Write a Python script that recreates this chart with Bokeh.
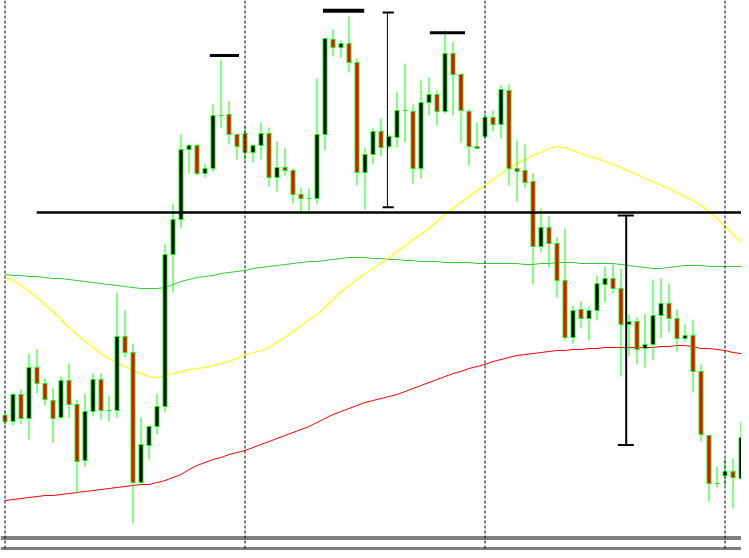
from bokeh.plotting import figure
from bokeh.models import Range1d, Span, ColumnDataSource
from bokeh.embed import file_html
from bokeh.resources import INLINE

# ---- price data (points), one entry per bar ----
bar_index = list(range(94))

open_ = [185, 179, 206, 182, 233, 217, 200, 183, 220, 196,
         140, 189, 221, 190, 190, 264, 248, 118, 155, 174,
         194, 346, 381, 451, 455, 427, 432, 485, 486, 466,
         467, 448, 455, 467, 423, 433, 430, 406, 402, 402,
         466, 561, 553, 557, 538, 428, 446, 469, 454, 463,
         490, 489, 432, 498, 506, 489, 547, 526, 489, 454,
         464, 483, 476, 510, 432, 430, 419, 354, 373, 357,
         320, 263, 291, 282, 290, 316, 322, 312, 276, 279,
         252, 256, 285, 297, 282, 262, 265, 229, 165, 117,
         125, 129, 122, 163]

close = [179, 206, 182, 233, 217, 201, 182, 220, 196, 139,
         189, 221, 190, 190, 264, 248, 118, 156, 174, 194,
         346, 381, 451, 455, 427, 432, 485, 485, 466, 454,
         448, 455, 467, 423, 433, 430, 406, 402, 402, 466,
         562, 553, 557, 538, 428, 446, 469, 453, 464, 490,
         490, 432, 498, 506, 489, 547, 526, 490, 454, 452,
         483, 476, 511, 432, 429, 418, 354, 373, 357, 320,
         263, 290, 282, 290, 317, 322, 312, 276, 279, 251,
         256, 285, 297, 282, 262, 265, 229, 166, 117, 117,
         129, 123, 163, 163]

high = [190, 208, 211, 247, 251, 222, 213, 224, 237, 201,
        207, 227, 227, 205, 308, 290, 257, 183, 175, 207,
        356, 396, 466, 457, 457, 437, 496, 540, 499, 467,
        475, 457, 478, 473, 459, 452, 432, 413, 412, 522,
        563, 571, 560, 584, 542, 453, 472, 482, 466, 508,
        537, 496, 520, 523, 510, 570, 559, 527, 491, 478,
        487, 490, 515, 516, 460, 456, 427, 392, 384, 363,
        372, 295, 299, 294, 325, 334, 336, 332, 286, 283,
        287, 321, 322, 317, 291, 276, 281, 236, 165, 134,
        142, 142, 179, 196]

low = [175, 175, 176, 161, 207, 195, 158, 181, 183, 107,
       134, 184, 181, 179, 183, 243, 77, 115, 141, 166,
       188, 308, 372, 427, 425, 423, 429, 473, 457, 441,
       440, 438, 441, 414, 409, 425, 397, 389, 389, 397,
       450, 544, 543, 528, 415, 391, 436, 444, 452, 453,
       458, 417, 422, 485, 475, 487, 485, 458, 435, 452,
       461, 469, 462, 415, 399, 413, 316, 348, 333, 303,
       260, 257, 272, 260, 280, 298, 307, 224, 245, 236,
       233, 240, 263, 268, 249, 259, 208, 159, 99, 113,
       115, 92, 121, 154]

# ---- moving averages (read per bar) ----
ma_fast = [323, 320, 315, 309, 303, 296, 289, 281, 273, 266,
           259, 253, 247, 242, 237, 234, 230, 227, 224, 223,
           225, 227, 229, 231, 232, 233, 235, 237, 239, 242,
           246, 248, 250, 253, 258, 263, 269, 275, 281, 286,
           293, 301, 309, 315, 321, 327, 332, 337, 343, 349,
           355, 361, 366, 372, 379, 386, 392, 398, 404, 410,
           415, 421, 427, 432, 437, 441, 445, 448, 452, 454,
           453, 450, 447, 444, 442, 439, 436, 433, 429, 426,
           422, 419, 415, 412, 408, 404, 400, 395, 389, 382,
           374, 366, 358, 350]

ma_mid = [326, 325, 325, 324, 324, 323, 322, 322, 321, 320,
          319, 318, 317, 316, 315, 314, 313, 312, 312, 312,
          313, 316, 319, 321, 323, 324, 325, 327, 328, 329,
          330, 332, 333, 334, 335, 336, 337, 338, 339, 339,
          340, 341, 342, 343, 343, 343, 342, 342, 341, 341,
          340, 340, 339, 339, 339, 338, 338, 338, 338, 337,
          337, 337, 337, 337, 337, 336, 336, 337, 337, 338,
          338, 338, 337, 337, 337, 337, 337, 336, 335, 334,
          333, 332, 332, 333, 334, 335, 335, 335, 334, 334,
          334, 334, 334, 334]

ma_slow = [100, 101, 102, 103, 104, 105, 105, 106, 107, 108,
           109, 110, 111, 112, 113, 114, 115, 116, 116, 118,
           120, 123, 126, 131, 135, 138, 141, 143, 146, 148,
           150, 153, 156, 159, 162, 165, 168, 171, 174, 178,
           182, 186, 189, 192, 195, 198, 200, 202, 204, 206,
           209, 212, 215, 218, 221, 224, 227, 229, 232, 234,
           236, 239, 241, 243, 245, 246, 247, 248, 249, 250,
           250, 251, 251, 252, 252, 253, 253, 253, 253, 253,
           253, 253, 254, 254, 255, 255, 254, 252, 252, 251,
           250, 248, 247, 247]

# ---- drawn objects ----
level_price = 388
level_start_bar = 3.96
grid_bars = [0, 30, 60, 90]
peak_marks = [  # (bar from, bar to, price, thickness)
    (25.6, 29.25, 545, 3),
    (39.75, 44.9, 589.7, 4),
    (53.1, 57.5, 567.7, 3),
]
ranges = [  # (bar, price top, price bottom, cap from, cap to, width)
    (47.8, 588, 393.3, 47.2, 48.6, 1),
    (77.65, 385, 155.5, 76.6, 78.6, 2),
]
window_borders = [63.5, 61.5, 52.5, 50.5]

body_top = [max(o, c) for o, c in zip(open_, close)]
body_bot = [min(o, c) for o, c in zip(open_, close)]
fills = ["#000000" if c >= o else "#FF0000" for o, c in zip(open_, close)]

src = ColumnDataSource(dict(x=bar_index, high=high, low=low,
                            top=body_top, bottom=body_bot, fill=fills))

p = figure(width=741, height=550, output_backend="svg", toolbar_location=None,
           x_range=Range1d(-0.5625, 92.0625), y_range=Range1d(50, 600),
           x_axis_location=None, y_axis_location=None, min_border=0)
p.grid.visible = False
p.outline_line_color = None
p.background_fill_color = "white"
p.border_fill_color = "white"

for g in grid_bars:
    p.add_layout(Span(location=g, dimension="height", line_color="black",
                      line_width=1, line_dash="3 2"))

p.line(bar_index, ma_slow, line_color="#FF0000", line_width=1)
p.line(bar_index, ma_mid, line_color="#32CD32", line_width=1)
p.line(bar_index, ma_fast, line_color="#FFFF00", line_width=1.2)

p.segment(x0="x", y0="high", x1="x", y1="low", source=src,
          line_color="#00FF00", line_width=1)
p.vbar(x="x", top="top", bottom="bottom", width=0.5, source=src,
       fill_color="fill", line_color="#00FF00", line_width=1)

p.segment(x0=[level_start_bar], y0=[level_price], x1=[94], y1=[level_price],
          line_color="black", line_width=2.5)

for b0, b1, pr, w in peak_marks:
    p.segment(x0=[b0], y0=[pr], x1=[b1], y1=[pr], line_color="black",
              line_width=w)
for bx, ptop, pbot, c0, c1, w in ranges:
    p.segment(x0=[bx], y0=[ptop], x1=[bx], y1=[pbot], line_color="black",
              line_width=w)
    p.segment(x0=[c0, c0], y0=[ptop, pbot], x1=[c1, c1], y1=[ptop, pbot],
              line_color="black", line_width=2)

for wb in window_borders:
    p.add_layout(Span(location=wb, dimension="width", line_color="black",
                      line_width=1))

open("out.html", "w").write(file_html(p, INLINE))
